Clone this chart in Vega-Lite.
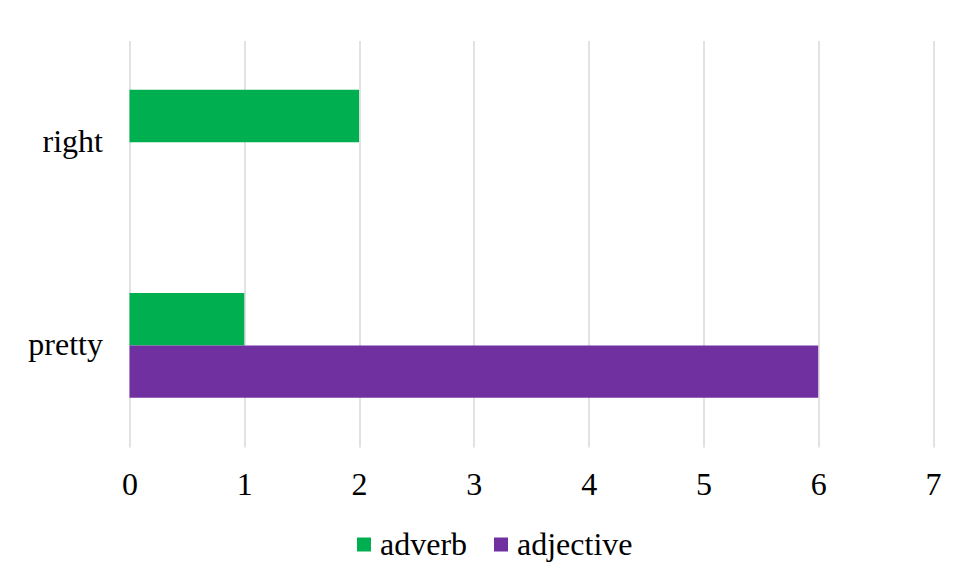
{
  "$schema": "https://vega.github.io/schema/vega-lite/v6.json",
  "autosize": {"type": "none"},
  "padding": {"left": 129.5, "top": 40.5, "right": 24, "bottom": 132},
  "width": 803.5,
  "height": 406.5,
  "background": "white",
  "data": {
    "values": [
      {"word": "right", "pos": "adverb", "count": 2},
      {"word": "right", "pos": "adjective", "count": 0},
      {"word": "pretty", "pos": "adverb", "count": 1},
      {"word": "pretty", "pos": "adjective", "count": 6}
    ]
  },
  "mark": {"type": "bar"},
  "encoding": {
    "y": {
      "field": "word",
      "type": "nominal",
      "sort": ["right", "pretty"],
      "scale": {"paddingInner": 0.485, "paddingOuter": 0.2425},
      "axis": {
        "title": null,
        "domain": false,
        "ticks": false,
        "grid": false,
        "labelPadding": 27,
        "labelFontSize": 32,
        "labelBaseline": "middle"
      }
    },
    "yOffset": {
      "field": "pos",
      "type": "nominal",
      "sort": ["adverb", "adjective"],
      "scale": {"paddingInner": 0, "paddingOuter": 0}
    },
    "x": {
      "field": "count",
      "type": "quantitative",
      "scale": {"domain": [0, 7], "nice": false},
      "axis": {
        "title": null,
        "values": [0, 1, 2, 3, 4, 5, 6, 7],
        "format": "d",
        "domain": false,
        "ticks": false,
        "grid": true,
        "gridColor": "#D9D9D9",
        "gridWidth": 1.5,
        "labelPadding": 37,
        "labelFontSize": 32,
        "labelBaseline": "middle",
        "labelFlush": false
      }
    },
    "color": {
      "field": "pos",
      "type": "nominal",
      "scale": {"domain": ["adverb", "adjective"], "range": ["#00B050", "#7030A0"]},
      "legend": {
        "title": null,
        "orient": "none",
        "direction": "horizontal",
        "legendX": 218.5,
        "legendY": 488,
        "symbolType": "square",
        "symbolSize": 196,
        "symbolStrokeWidth": 0,
        "labelFontSize": 32,
        "labelOffset": 0,
        "columnPadding": 17
      }
    }
  },
  "config": {
    "font": "Liberation Serif",
    "view": {"stroke": null},
    "axis": {"labelColor": "#000000", "labelFont": "Liberation Serif"},
    "legend": {"labelColor": "#000000", "labelFont": "Liberation Serif"}
  }
}
